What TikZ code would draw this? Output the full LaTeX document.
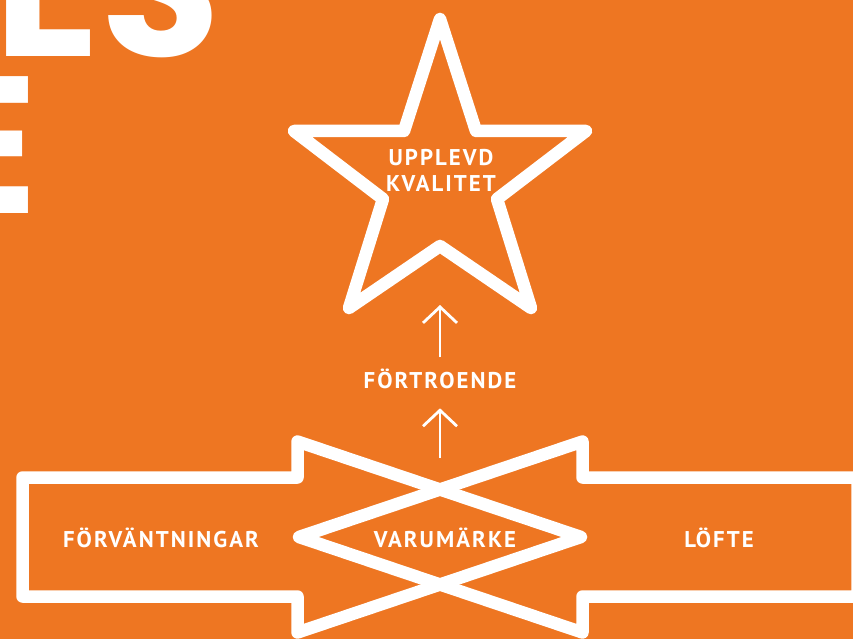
\documentclass[tikz,border=0pt]{standalone}
\usepackage{fontspec}
\newfontfamily\labelfont{PT Sans}[LetterSpace=9]
\newfontfamily\bigfont{Poppins}
\usetikzlibrary{arrows.meta}

\definecolor{brandorange}{RGB}{238,118,34}

\tikzset{
  labeltext/.style={text=white,inner sep=0pt,align=center,
    font=\labelfont\bfseries\fontsize{22.8}{26}\selectfont},
  bigletters/.style={text=white,inner sep=0pt,
    font=\bigfont\bfseries\fontsize{195}{195}\selectfont},
  outline/.style={draw=white,line width=12.5pt,line join=round},
  smallarrow/.style={draw=white,line width=2.8pt,
    -{Straight Barb[length=16pt,width=34pt]}},
}

\begin{document}
\begin{tikzpicture}[x=1pt,y=-1pt]
  \useasboundingbox (0,0) rectangle (853,639);
  \fill[brandorange] (0,0) rectangle (853,639);
  \clip (0,0) rectangle (853,639);

  % cropped title letters
  \node[bigletters,anchor=base west] (es) at (-5.6,57) {ES};
  \node[bigletters,anchor=base east] (r)  at (es.base west) {R};
  \node[bigletters,anchor=base west] (e)  at (-67.6,213) {E};

  % star
  \draw[outline] (440,19) -- (476,131) -- (586,131) -- (497,199)
     -- (531,308) -- (440,246) -- (349,308) -- (383,199)
     -- (294,131) -- (404,131) -- cycle;
  \node[labeltext] (quality) at (441,170.5) {UPPLEVD\\KVALITET};

  % the two big arrows
  \draw[outline] (22.5,477.5) -- (297.5,477.5) -- (297.5,441.5) -- (581,537)
     -- (297.5,632.5) -- (297.5,596.5) -- (22.5,596.5) -- cycle;
  \draw[outline] (857.5,477.5) -- (582.5,477.5) -- (582.5,441.5) -- (299,537)
     -- (582.5,632.5) -- (582.5,596.5) -- (857.5,596.5) -- cycle;

  \node[labeltext,anchor=base] (expect)  at (161,547.3) {FÖRVÄNTNINGAR};
  \node[labeltext,anchor=base] (brand)   at (445,547.3) {VARUMÄRKE};
  \node[labeltext,anchor=base] (promise) at (719,547.3) {LÖFTE};
  \node[labeltext,anchor=base] (trust)   at (440,388.3) {FÖRTROENDE};

  \coordinate (cross)    at (440,458);
  \coordinate (starfoot) at (440,305);
  \draw[smallarrow] (cross) -- ([yshift=-20pt]trust.base);
  \draw[smallarrow] ([yshift=31pt]trust.base) -- (starfoot);
\end{tikzpicture}
\end{document}
